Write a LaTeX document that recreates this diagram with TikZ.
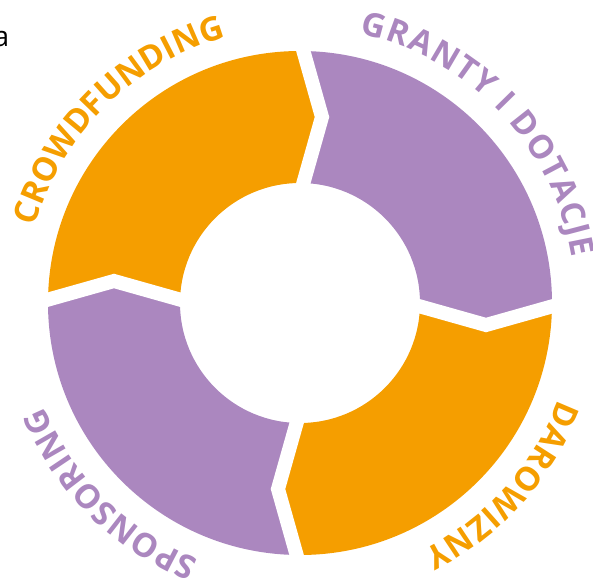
\documentclass[tikz,border=0pt]{standalone}
\usepackage{fontspec}
\setmainfont{Open Sans}
\newfontfamily\lblfont{Open Sans}
\usetikzlibrary{decorations.text}
\definecolor{ringorange}{RGB}{245,158,0}
\definecolor{ringpurple}{RGB}{171,135,191}
\begin{document}
\begin{tikzpicture}[x=1pt,y=1pt,
  gapline/.style={draw=white,line width=14pt,line join=miter,miter limit=20},
  arclabel/.style 2 args={decorate,decoration={text along path,
     text={|\lblfont\bfseries\fontsize{33}{33}\selectfont|#1},
     text align={fit to path},text color=#2}}]
\clip (-300,-278) rectangle (293,303);
% gap polylines: outer, tip, inner
\coordinate (gTo) at (90:264);  \coordinate (gTt) at (83.255:187.3);  \coordinate (gTi) at (90:108);
\coordinate (gRo) at (0:264);   \coordinate (gRt) at (-6.745:187.3);  \coordinate (gRi) at (0:108);
\coordinate (gBo) at (-90:264); \coordinate (gBt) at (-96.745:187.3); \coordinate (gBi) at (-90:108);
\coordinate (gLo) at (180:264); \coordinate (gLt) at (173.255:187.3); \coordinate (gLi) at (180:108);
% segments
\fill[ringorange] (180:252) arc[start angle=180,end angle=90,radius=252] -- (gTt)
  -- (90:120) arc[start angle=90,end angle=180,radius=120] -- (gLt) -- cycle;
\fill[ringpurple] (90:252) arc[start angle=90,end angle=0,radius=252] -- (gRt)
  -- (0:120) arc[start angle=0,end angle=90,radius=120] -- (gTt) -- cycle;
\fill[ringorange] (0:252) arc[start angle=0,end angle=-90,radius=252] -- (gBt)
  -- (-90:120) arc[start angle=-90,end angle=0,radius=120] -- (gRt) -- cycle;
\fill[ringpurple] (-90:252) arc[start angle=-90,end angle=-180,radius=252] -- (gLt)
  -- (-180:120) arc[start angle=-180,end angle=-90,radius=120] -- (gBt) -- cycle;
% white chevron gaps
\draw[gapline] (gTo) -- (gTt) -- (gTi);
\draw[gapline] (gRo) -- (gRt) -- (gRi);
\draw[gapline] (gBo) -- (gBt) -- (gBi);
\draw[gapline] (gLo) -- (gLt) -- (gLi);
% curved labels
\path[arclabel={CROWDFUNDING}{ringorange}] (164:276) arc[start angle=164,end angle=106,radius=276];
\path[arclabel={GRANTY I DOTACJE}{ringpurple}] (77.5:276) arc[start angle=77.5,end angle=9.5,radius=276];
\path[arclabel={DAROWIZNY}{ringorange}] (-20.5:276) arc[start angle=-20.5,end angle=-63.5,radius=276];
\path[arclabel={SPONSORING}{ringpurple}] (248.5:276) arc[start angle=248.5,end angle=202,radius=276];
% stray letter at top left
\node[anchor=base east,inner sep=0pt,font=\fontsize{28}{28}\selectfont] (stray) at (-290.5,256) {a};
\end{tikzpicture}
\end{document}
